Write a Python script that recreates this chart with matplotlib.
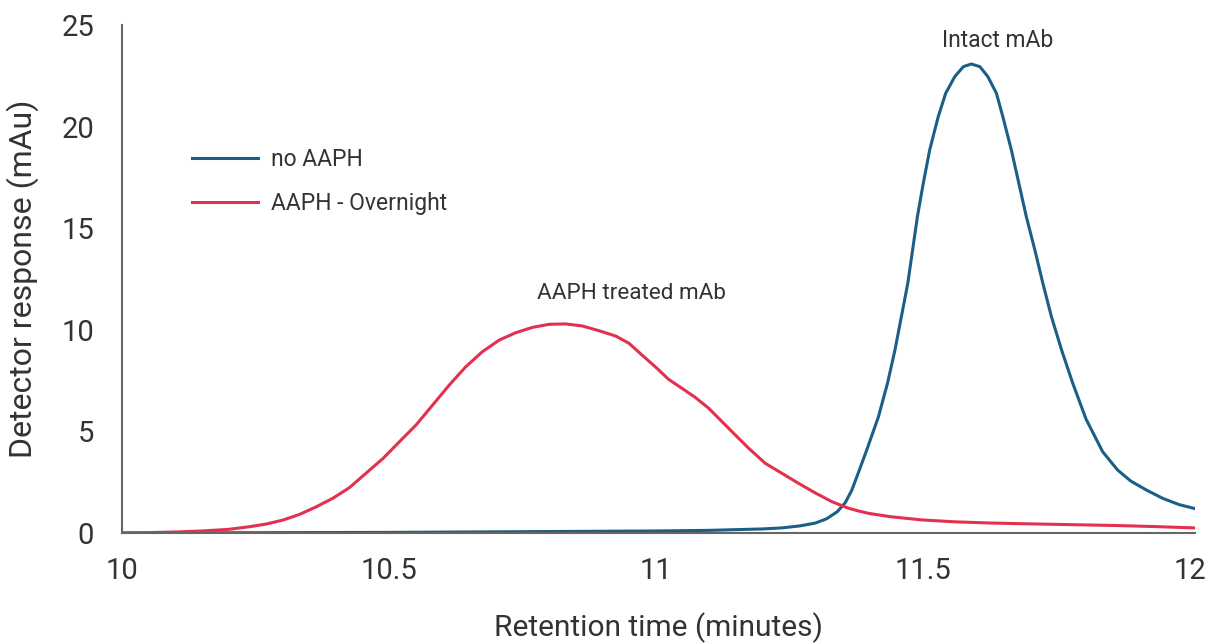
import matplotlib
matplotlib.use("Agg")
import matplotlib.pyplot as plt

# retention time (min) / detector response (mAu)
t_no_aaph = [10.0, 10.5, 11.0, 11.1, 11.2, 11.236, 11.27, 11.299, 11.32, 11.34,
             11.355, 11.367, 11.379, 11.395, 11.417, 11.434, 11.448, 11.46, 11.472,
             11.481, 11.49, 11.501, 11.513, 11.529, 11.543, 11.56, 11.576, 11.591,
             11.607, 11.622, 11.638, 11.65, 11.666, 11.68, 11.694, 11.71, 11.725,
             11.741, 11.76, 11.781, 11.806, 11.837, 11.865, 11.89, 11.92, 11.95,
             11.98, 12.01]
r_no_aaph = [0.0, 0.03, 0.1, 0.13, 0.2, 0.25, 0.35, 0.49, 0.7, 1.05,
             1.5, 2.1, 2.94, 4.08, 5.72, 7.37, 9.01, 10.65, 12.29,
             13.93, 15.57, 17.21, 18.85, 20.49, 21.64, 22.46, 22.95, 23.08,
             22.95, 22.46, 21.64, 20.49, 18.85, 17.21, 15.57, 13.93, 12.29,
             10.65, 9.01, 7.37, 5.6, 4.0, 3.1, 2.55, 2.1, 1.7,
             1.4, 1.2]

t_aaph = [10.0, 10.05, 10.1, 10.15, 10.2, 10.239, 10.27, 10.302, 10.333, 10.364,
          10.395, 10.426, 10.457, 10.489, 10.52, 10.551, 10.582, 10.613, 10.644,
          10.675, 10.707, 10.738, 10.769, 10.8, 10.831, 10.862, 10.893, 10.925,
          10.95, 10.974, 10.999, 11.024, 11.049, 11.074, 11.099, 11.124, 11.149,
          11.174, 11.205, 11.236, 11.267, 11.298, 11.33, 11.361, 11.38, 11.40,
          11.44, 11.5, 11.56, 11.628, 11.7, 11.78, 11.86, 11.93, 12.01]
r_aaph = [0.0, 0.02, 0.05, 0.1, 0.18, 0.31, 0.44, 0.64, 0.92, 1.29,
          1.71, 2.23, 2.94, 3.67, 4.5, 5.32, 6.3, 7.28, 8.18,
          8.92, 9.5, 9.86, 10.12, 10.27, 10.29, 10.19, 9.96, 9.69,
          9.33, 8.76, 8.18, 7.56, 7.12, 6.67, 6.14, 5.48, 4.82,
          4.17, 3.43, 2.94, 2.45, 1.98, 1.54, 1.22, 1.08, 0.96,
          0.8, 0.64, 0.55, 0.49, 0.45, 0.41, 0.37, 0.32, 0.25]

blue = "#1b5f86"
red = "#e2304f"
txt = "#333333"

plt.rcParams['font.family'] = ['Roboto', 'DejaVu Sans']

fig = plt.figure(figsize=(12.11, 6.43), dpi=100)
ax = fig.add_axes([122/1211, 1-533/643, 1073/1211, 508/643])

ax.plot(t_no_aaph, r_no_aaph, color=blue, lw=2.2, label="no AAPH")
ax.plot(t_aaph, r_aaph, color=red, lw=2.2, label="AAPH - Overnight")

ax.set_xlim(10, 12.01)
ax.set_ylim(0, 25)
ax.set_xticks([10, 10.5, 11, 11.5, 12])
ax.set_xticklabels(["10", "10.5", "11", "11.5", "12"])
ax.set_yticks([0, 5, 10, 15, 20, 25])

for s in ["top", "right"]:
    ax.spines[s].set_visible(False)
for s in ["left", "bottom"]:
    ax.spines[s].set_color("#666666")
    ax.spines[s].set_linewidth(1.5)
ax.tick_params(axis="both", length=0, labelsize=21, colors=txt)
ax.tick_params(axis="y", pad=20)
ax.tick_params(axis="x", pad=17)

ax.set_xlabel("Retention time (minutes)", fontsize=21.5, color=txt, labelpad=20)
ax.set_ylabel("Detector response (mAu)", fontsize=23, color=txt, labelpad=16)

ax.text(10.955, 11.8, "AAPH treated mAb", fontsize=16.2, color=txt, ha="center", va="center")
ax.text(11.641, 24.26, "Intact mAb", fontsize=16.5, color=txt, ha="center", va="center")

ax.legend(loc="center left", bbox_to_anchor=(70/1073, 1-156.5/508), frameon=False,
          fontsize=16.5, handlelength=2.9, handletextpad=0.55, labelspacing=0.95,
          borderpad=0, borderaxespad=0, labelcolor=txt)

fig.savefig("out.png", dpi=100)
